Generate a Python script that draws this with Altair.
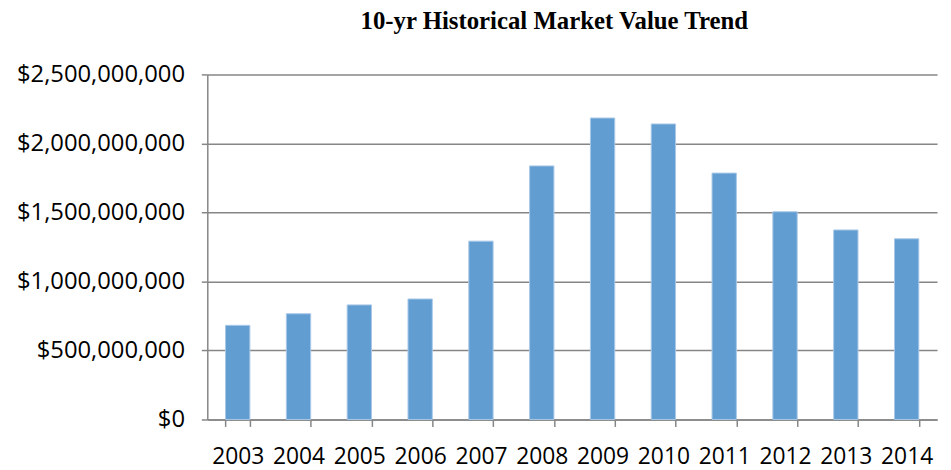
import altair as alt
import pandas as pd

years = ["2003", "2004", "2005", "2006", "2007", "2008", "2009", "2010", "2011", "2012", "2013", "2014"]
values = [682e6, 766e6, 830e6, 873e6, 1292e6, 1837e6, 2184e6, 2141e6, 1785e6, 1505e6, 1373e6, 1309e6]
y_ticks = [0, 500e6, 1000e6, 1500e6, 2000e6, 2500e6]

df = pd.DataFrame({"year": years, "value": values})

label_font = "Open Sans"

chart = alt.Chart(df).mark_bar(color="#629DD1", stroke="#A9C8E8", strokeWidth=1).encode(
    x=alt.X("year:N", sort=years,
            scale=alt.Scale(paddingInner=0.6, paddingOuter=0.3),
            axis=alt.Axis(title=None, labelAngle=0, tickBand="extent", tickSize=7,
                          tickColor="#868686", tickWidth=1.5, domainColor="#868686",
                          domainWidth=1.5, labelPadding=19, labelFontSize=23,
                          labelFont=label_font, labelColor="#000000", grid=False)),
    y=alt.Y("value:Q", scale=alt.Scale(domain=[0, 2.5e9], nice=False),
            axis=alt.Axis(title=None, values=y_ticks, format="$,.0f", tickSize=6,
                          tickColor="#868686", tickWidth=1.5, domainColor="#868686",
                          domainWidth=1.5, gridColor="#868686", gridWidth=1.5,
                          labelPadding=17, labelFontSize=24, labelFont=label_font,
                          labelColor="#000000")),
).properties(
    width=736, height=348,
    title=alt.TitleParams("10-yr Historical Market Value Trend", font="Liberation Serif",
                          fontSize=25, fontWeight="bold", color="#000000", offset=29, dx=-18),
    autosize=alt.AutoSizeParams(type="none"),
    padding={"left": 201, "top": 65, "right": 6, "bottom": 50},
).configure_view(stroke=None)

chart.save("out.html", embed_options={"renderer": "svg", "actions": False})
